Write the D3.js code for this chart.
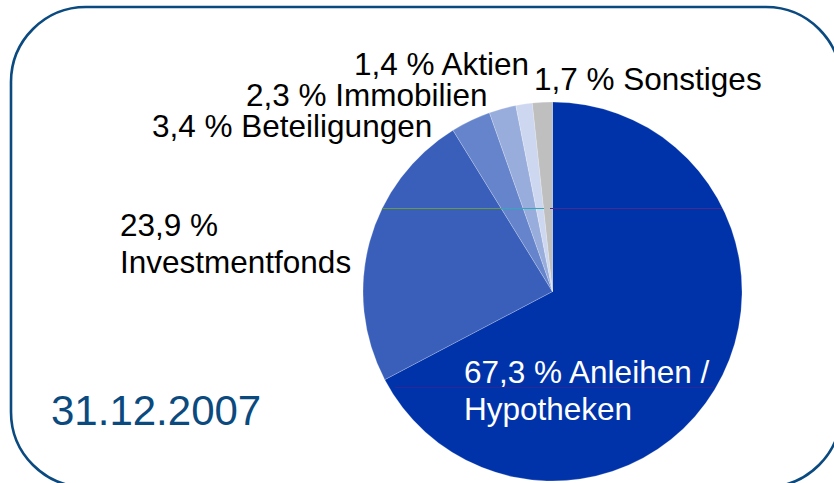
<!DOCTYPE html>
<html>
<head>
<meta charset="utf-8">
<script src="https://cdn.jsdelivr.net/npm/d3@7"></script>
<style>
  html, body { margin: 0; padding: 0; background: #ffffff; }
  svg { display: block; }
  text { font-family: "Liberation Sans", Arial, sans-serif; }
</style>
</head>
<body>
<svg id="chart" width="834" height="483"></svg>
<script>
// ---- data ----
const categories = ["Anleihen / Hypotheken", "Investmentfonds", "Beteiligungen", "Immobilien", "Aktien", "Sonstiges"];
const values = [67.3, 23.9, 3.4, 2.3, 1.4, 1.7];
const colors = ["#0033aa", "#3a5fbb", "#6584cb", "#98addc", "#cdd7ef", "#bfbfbf"];
const labelLines = [
  ["67,3 % Anleihen /", "Hypotheken"],
  ["23,9 %", "Investmentfonds"],
  ["3,4 % Beteiligungen"],
  ["2,3 % Immobilien"],
  ["1,4 % Aktien"],
  ["1,7 % Sonstiges"]
];
const dateLabel = "31.12.2007";

// ---- layout ----
const W = 834, H = 483;
const cx = 552.5, cy = 291.5, R = 189.5;
const svg = d3.select("#chart");

// frame
svg.append("rect")
  .attr("x", 11).attr("y", 7)
  .attr("width", 830).attr("height", 480)
  .attr("rx", 75).attr("ry", 75)
  .attr("fill", "none")
  .attr("stroke", "#0b4a80")
  .attr("stroke-width", 2.6);

const data = categories.map((c, i) => ({ name: c, value: values[i], color: colors[i], lines: labelLines[i] }));

const pie = d3.pie().sort(null).value(d => d.value);
const arc = d3.arc().innerRadius(0).outerRadius(R);
const arcs = pie(data);

const g = svg.append("g").attr("transform", `translate(${cx},${cy})`);
g.selectAll("path.slice")
  .data(arcs)
  .join("path")
  .attr("class", "slice")
  .attr("d", arc)
  .attr("fill", d => d.data.color)
  .attr("stroke", "rgba(255,255,255,0.35)")
  .attr("stroke-width", 0.6);

// thin artifact lines seen in the original (clipped to the pie)
const yTop = -83, yBot = 96;
const half = y => Math.sqrt(R * R - y * y);
const art = svg.append("g").attr("stroke-width", 1).attr("shape-rendering", "crispEdges");
art.append("line").attr("x1", cx - half(yTop)).attr("x2", cx - 52).attr("y1", cy + yTop).attr("y2", cy + yTop).attr("stroke", "#6a9a3a");
art.append("line").attr("x1", cx - 52).attr("x2", cx - 9).attr("y1", cy + yTop).attr("y2", cy + yTop).attr("stroke", "#2eaab8");
art.append("line").attr("x1", cx - 3).attr("x2", cx + half(yTop) - 1).attr("y1", cy + yTop).attr("y2", cy + yTop).attr("stroke", "#4a2a8e");
art.append("line").attr("x1", cx - 158).attr("x2", cx + half(yBot) - 2).attr("y1", cy + yBot).attr("y2", cy + yBot).attr("stroke", "#3a2590").attr("stroke-opacity", 0.8);

// labels: anchor positions (left x, first baseline)
const labelPos = [
  { x: 464, y: 383, fill: "#ffffff" },
  { x: 120, y: 236, fill: "#000000" },
  { x: 152, y: 137, fill: "#000000" },
  { x: 246, y: 106, fill: "#000000" },
  { x: 354, y: 75, fill: "#000000" },
  { x: 534, y: 90, fill: "#000000" }
];
const lineH = 37;
const lbl = svg.append("g").attr("font-size", 31.5);
data.forEach((d, i) => {
  const p = labelPos[i];
  const t = lbl.append("text")
    .attr("x", p.x).attr("y", p.y)
    .attr("fill", p.fill);
  d.lines.forEach((ln, j) => {
    t.append("tspan").attr("x", p.x).attr("dy", j === 0 ? 0 : lineH).text(ln);
  });
});

svg.append("text")
  .attr("x", 51).attr("y", 425)
  .attr("font-size", 42)
  .attr("fill", "#0b4a7e")
  .text(dateLabel);
</script>
</body>
</html>
